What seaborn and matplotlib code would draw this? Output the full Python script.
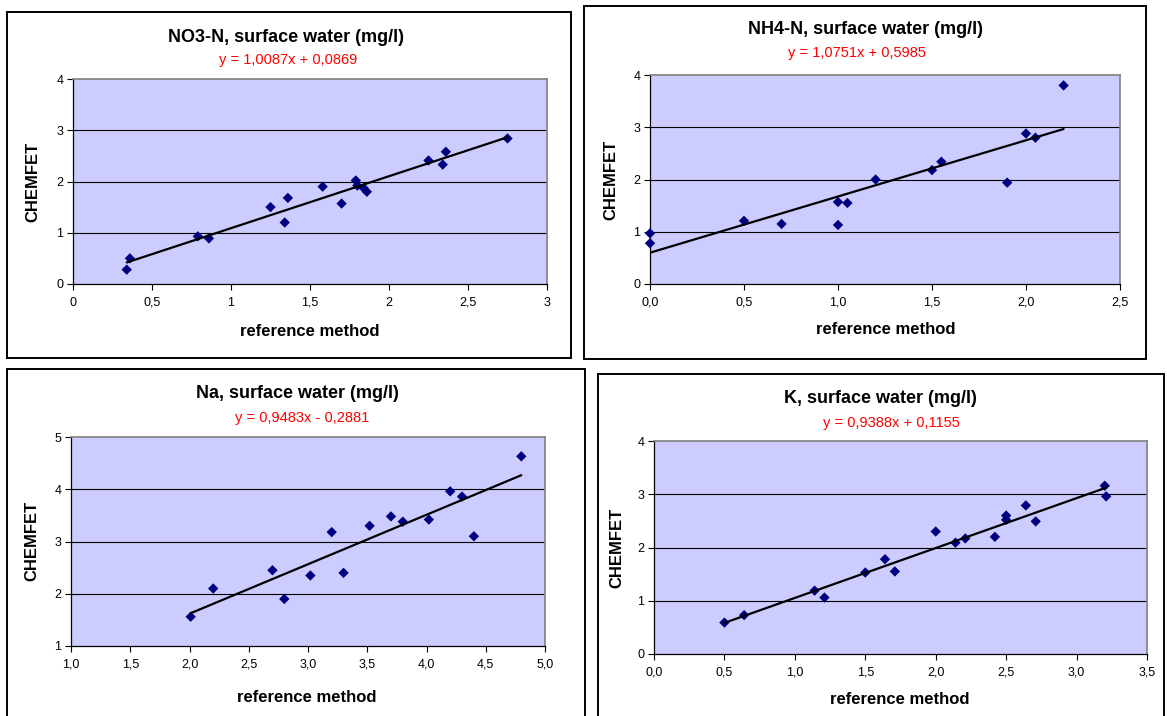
import numpy as np
import pandas as pd
import matplotlib
matplotlib.use("Agg")
import matplotlib.pyplot as plt
import seaborn as sns
from matplotlib.patches import Rectangle

# ---------------- data ----------------
no3_ref = [0.34, 0.36, 0.79, 0.86, 1.25, 1.34, 1.36, 1.58, 1.70, 1.79, 1.80, 1.84, 1.86, 2.25, 2.34, 2.36, 2.75]
no3_chem = [0.28, 0.50, 0.93, 0.89, 1.50, 1.20, 1.68, 1.90, 1.57, 2.02, 1.92, 1.87, 1.80, 2.41, 2.33, 2.58, 2.84]

nh4_ref = [0.0, 0.0, 0.5, 0.7, 1.0, 1.0, 1.05, 1.2, 1.5, 1.55, 1.9, 2.0, 2.05, 2.2]
nh4_chem = [0.97, 0.78, 1.21, 1.15, 1.57, 1.13, 1.55, 2.00, 2.18, 2.34, 1.94, 2.88, 2.80, 3.80]

na_ref = [2.01, 2.20, 2.70, 2.80, 3.02, 3.20, 3.30, 3.52, 3.70, 3.80, 4.02, 4.20, 4.30, 4.40, 4.80]
na_chem = [1.56, 2.10, 2.45, 1.90, 2.35, 3.18, 2.40, 3.30, 3.48, 3.38, 3.42, 3.96, 3.86, 3.10, 4.63]

k_ref = [0.50, 0.64, 1.14, 1.21, 1.50, 1.64, 1.71, 2.00, 2.14, 2.21, 2.42, 2.50, 2.50, 2.64, 2.71, 3.20, 3.21]
k_chem = [0.59, 0.73, 1.19, 1.06, 1.53, 1.78, 1.55, 2.30, 2.09, 2.17, 2.20, 2.60, 2.52, 2.79, 2.49, 3.16, 2.96]

titles = ["NO3-N, surface water (mg/l)", "NH4-N, surface water (mg/l)",
          "Na, surface water (mg/l)", "K, surface water (mg/l)"]
equations = ["y = 1,0087x + 0,0869", "y = 1,0751x + 0,5985",
             "y = 0,9483x - 0,2881", "y = 0,9388x + 0,1155"]

no3_xticks = [0, 0.5, 1, 1.5, 2, 2.5, 3]
no3_xlabels = ["0", "0,5", "1", "1,5", "2", "2,5", "3"]
nh4_xticks = [0.0, 0.5, 1.0, 1.5, 2.0, 2.5]
nh4_xlabels = ["0,0", "0,5", "1,0", "1,5", "2,0", "2,5"]
na_xticks = [1.0, 1.5, 2.0, 2.5, 3.0, 3.5, 4.0, 4.5, 5.0]
na_xlabels = ["1,0", "1,5", "2,0", "2,5", "3,0", "3,5", "4,0", "4,5", "5,0"]
k_xticks = [0.0, 0.5, 1.0, 1.5, 2.0, 2.5, 3.0, 3.5]
k_xlabels = ["0,0", "0,5", "1,0", "1,5", "2,0", "2,5", "3,0", "3,5"]

no3_yticks = [0, 1, 2, 3, 4]
nh4_yticks = [0, 1, 2, 3, 4]
na_yticks = [1, 2, 3, 4, 5]
k_yticks = [0, 1, 2, 3, 4]

xlabel_text = "reference method"
ylabel_text = "CHEMFET"

# ---------------- style ----------------
sns.set_style("white")
plt.rcParams["font.family"] = ["Liberation Sans", "DejaVu Sans"]

W, H = 1167, 716
fig = plt.figure(figsize=(W / 100, H / 100), dpi=100)


def fx(px):
    return px / W


def fy(py):
    return 1 - py / H


panels = [
    dict(x=no3_ref, y=no3_chem, xt=no3_xticks, xl=no3_xlabels, yt=no3_yticks,
         box=(7, 12, 571, 358), ax=(73, 79, 547, 284),
         title=(286, 37), eq=(288, 60), ylab=(33, 182), xlab=(310, 331)),
    dict(x=nh4_ref, y=nh4_chem, xt=nh4_xticks, xl=nh4_xlabels, yt=nh4_yticks,
         box=(584, 6, 1146, 359), ax=(650, 75, 1120, 284),
         title=(866, 30), eq=(857, 53), ylab=(611, 180), xlab=(886, 330)),
    dict(x=na_ref, y=na_chem, xt=na_xticks, xl=na_xlabels, yt=na_yticks,
         box=(7, 369, 585, 722), ax=(71, 437, 545, 646),
         title=(297, 393), eq=(302, 418), ylab=(32, 541), xlab=(307, 697)),
    dict(x=k_ref, y=k_chem, xt=k_xticks, xl=k_xlabels, yt=k_yticks,
         box=(598, 374, 1164, 722), ax=(654, 441, 1147, 654),
         title=(880, 398), eq=(891, 423), ylab=(617, 548), xlab=(900, 700)),
]

for i, p in enumerate(panels):
    bx0, by0, bx1, by1 = p["box"]
    fig.add_artist(Rectangle((fx(bx0), fy(by1)), fx(bx1) - fx(bx0), fy(by0) - fy(by1),
                             transform=fig.transFigure, fill=False,
                             edgecolor="black", linewidth=1.4, zorder=0))
    ax0, ay0, ax1, ay1 = p["ax"]
    ax = fig.add_axes([fx(ax0), fy(ay1), fx(ax1) - fx(ax0), fy(ay0) - fy(ay1)])
    ax.set_facecolor("#CCCCFF")
    df = pd.DataFrame({"ref": p["x"], "chem": p["y"]})
    sns.regplot(data=df, x="ref", y="chem", ax=ax, ci=None, marker="D",
                color="#000080",
                scatter_kws=dict(s=28, alpha=1, edgecolors="none", zorder=3, clip_on=False),
                line_kws=dict(color="black", linewidth=1.6, zorder=4))
    ax.set_xlim(p["xt"][0], p["xt"][-1])
    ax.set_ylim(p["yt"][0], p["yt"][-1])
    ax.set_xticks(p["xt"])
    ax.set_xticklabels(p["xl"])
    ax.set_yticks(p["yt"])
    ax.set_yticklabels([str(v) for v in p["yt"]])
    ax.set_xlabel("")
    ax.set_ylabel("")
    for yv in p["yt"][1:-1]:
        ax.axhline(yv, color="black", linewidth=0.8, zorder=1)
    for s in ["top", "right"]:
        ax.spines[s].set_color("#808080")
        ax.spines[s].set_linewidth(1.2)
    for s in ["left", "bottom"]:
        ax.spines[s].set_color("black")
        ax.spines[s].set_linewidth(0.9)
        ax.spines[s].set_visible(True)
    ax.tick_params(axis="both", direction="out", length=4, width=0.8,
                   colors="black", labelsize=9, pad=3,
                   bottom=True, left=True)
    ax.tick_params(axis="x", pad=5)

    tx, ty = p["title"]
    fig.text(fx(tx), fy(ty), titles[i], ha="center", va="center",
             fontsize=13, fontweight="bold", color="black")
    ex, ey = p["eq"]
    fig.text(fx(ex), fy(ey), equations[i], ha="center", va="center",
             fontsize=10.5, color="#FF0000")
    lx, ly = p["xlab"]
    fig.text(fx(lx), fy(ly), xlabel_text, ha="center", va="center",
             fontsize=12, fontweight="bold", color="black")
    yx, yy = p["ylab"]
    fig.text(fx(yx), fy(yy), ylabel_text, ha="center", va="center",
             rotation=90, fontsize=12, fontweight="bold", color="black")

fig.savefig("out.png", dpi=100, facecolor="white")
